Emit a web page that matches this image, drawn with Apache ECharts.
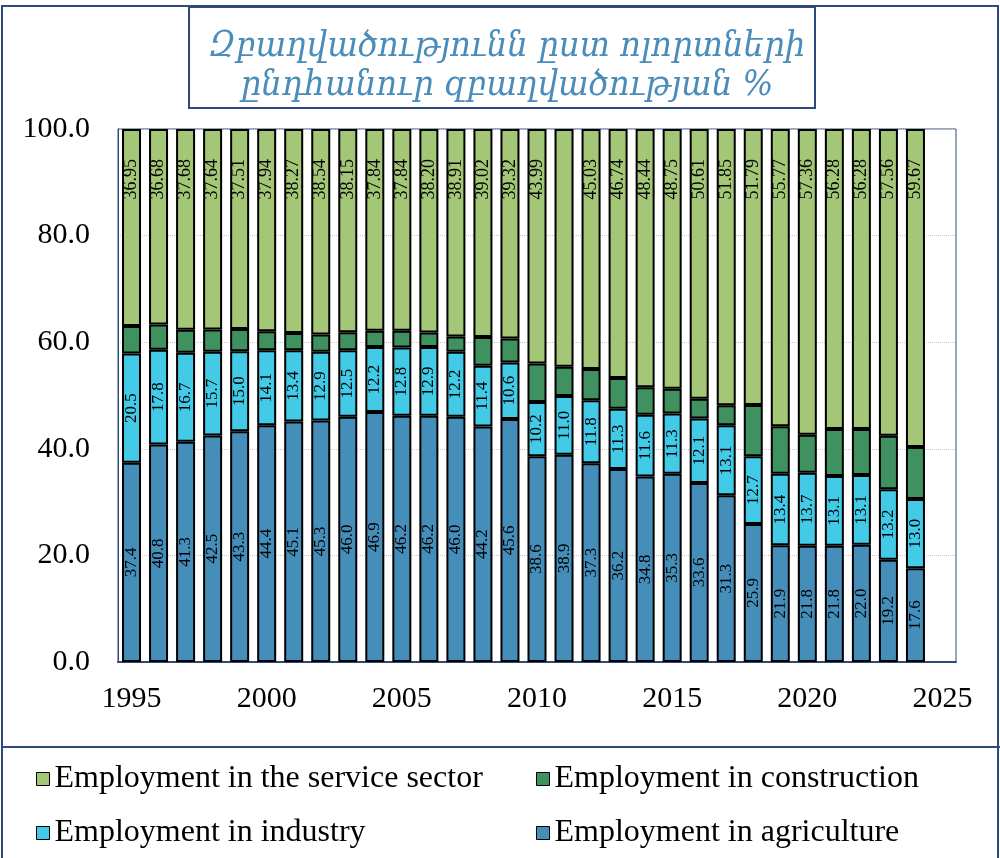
<!DOCTYPE html>
<html>
<head>
<meta charset="utf-8">
<script src="https://cdn.jsdelivr.net/npm/echarts@6/dist/echarts.min.js"></script>
<style>
  html, body { margin: 0; padding: 0; background: #fff; }
  #chart { width: 1000px; height: 858px; }
</style>
</head>
<body>
<div id="chart"></div>
<script>
  const years = [1995, 1996, 1997, 1998, 1999, 2000, 2001, 2002, 2003, 2004,
    2005, 2006, 2007, 2008, 2009, 2010, 2011, 2012, 2013, 2014,
    2015, 2016, 2017, 2018, 2019, 2020, 2021, 2022, 2023, 2024, 2025]
  const agriculture = [37.4, 40.8, 41.3, 42.5, 43.3, 44.4, 45.1, 45.3, 46.0, 46.9,
    46.2, 46.2, 46.0, 44.2, 45.6, 38.6, 38.9, 37.3, 36.2, 34.8,
    35.3, 33.6, 31.3, 25.9, 21.9, 21.8, 21.8, 22.0, 19.2, 17.6]
  const industry = [20.5, 17.8, 16.7, 15.7, 15.0, 14.1, 13.4, 12.9, 12.5, 12.2,
    12.8, 12.9, 12.2, 11.4, 10.6, 10.2, 11.0, 11.8, 11.3, 11.6,
    11.3, 12.1, 13.1, 12.7, 13.4, 13.7, 13.1, 13.1, 13.2, 13.0]
  // construction has no labels in the picture
  const construction = [5.15, 4.72, 4.32, 4.16, 4.19, 3.56, 3.23, 3.26, 3.35, 3.06,
    3.16, 2.7, 2.89, 5.38, 4.48, 7.21, 5.5, 5.87, 5.76, 5.16,
    4.65, 3.69, 3.75, 9.61, 8.93, 7.14, 8.82, 8.62, 10.04, 9.73]
  const service = [36.95, 36.68, 37.68, 37.64, 37.51, 37.94, 38.27, 38.54, 38.15, 37.84,
    37.84, 38.20, 38.91, 39.02, 39.32, 43.99, 44.6, 45.03, 46.74, 48.44,
    48.75, 50.61, 51.85, 51.79, 55.77, 57.36, 56.28, 56.28, 57.56, 59.67]
  const noServiceLabel = [2011]

  const serif = "'Liberation Serif', 'Times New Roman', serif"
  const navy = '#2E4A7D'

  const myChart = echarts.init(document.getElementById('chart'))

  function barSeries(name, values, color, label, hideLabelFor) {
    return {
      name: name,
      type: 'bar',
      stack: 'total',
      barWidth: 19,
      itemStyle: { color: color, borderColor: '#000', borderWidth: 2 },
      label: label,
      data: values.map((v, i) => {
        const item = { value: v }
        if (hideLabelFor && hideLabelFor.indexOf(years[i]) >= 0) item.label = { show: false }
        return item
      })
    }
  }

  const centerLabel = {
    show: true,
    position: 'inside',
    rotate: 90,
    fontFamily: serif,
    fontSize: 17,
    color: '#000',
    formatter: p => p.value.toFixed(1)
  }

  myChart.setOption({
    animation: false,
    title: {
      text: 'Զբաղվածությունն ըստ ոլորտների\nընդհանուր զբաղվածության %',
      left: 502,
      textAlign: 'center',
      top: 22,
      textStyle: {
        fontFamily: "'DejaVu Serif Condensed', 'DejaVu Serif', serif",
        fontStyle: 'italic',
        fontWeight: 'normal',
        fontSize: 36,
        lineHeight: 39,
        color: '#4A8DBA'
      }
    },
    graphic: [
      { type: 'rect', shape: { x: 2, y: 6, width: 996, height: 860 }, style: { fill: 'none', stroke: navy, lineWidth: 2 }, silent: true },
      { type: 'line', shape: { x1: 2, y1: 747, x2: 1000, y2: 747 }, style: { stroke: navy, lineWidth: 2 }, silent: true },
      { type: 'rect', shape: { x: 189, y: 7, width: 626, height: 101 }, style: { fill: 'none', stroke: navy, lineWidth: 2 }, silent: true }
    ],
    legend: [
      { data: ['Employment in the service sector'], left: 31, top: 758 },
      { data: ['Employment in construction'], left: 531, top: 758 },
      { data: ['Employment in industry'], left: 31, top: 812 },
      { data: ['Employment in agriculture'], left: 531, top: 812 }
    ].map(l => Object.assign(l, {
      icon: 'rect',
      itemWidth: 13,
      itemHeight: 13,
      itemGap: 6,
      itemStyle: { borderColor: '#000', borderWidth: 1 },
      textStyle: { fontFamily: serif, fontSize: 32, color: '#000', padding: [0, 0, 0, 0] }
    })),
    grid: {
      left: 118,
      right: 44,
      top: 129,
      bottom: 196,
      show: true,
      borderColor: navy,
      borderWidth: 1
    },
    xAxis: {
      type: 'category',
      data: years,
      boundaryGap: true,
      axisLine: { show: true, lineStyle: { color: navy, width: 2 } },
      axisTick: { show: false },
      splitLine: { show: false },
      axisLabel: {
        interval: 4,
        margin: 22,
        fontFamily: serif,
        fontSize: 30,
        color: '#000'
      }
    },
    yAxis: {
      type: 'value',
      min: 0,
      max: 100,
      interval: 20,
      axisLine: { show: true, lineStyle: { color: navy, width: 1 } },
      axisTick: { show: false },
      splitLine: { show: true, lineStyle: { color: '#C8C8C8', type: 'dotted', width: 1 } },
      axisLabel: {
        margin: 28,
        fontFamily: serif,
        fontSize: 30,
        color: '#000',
        formatter: v => v.toFixed(1)
      }
    },
    series: [
      barSeries('Employment in agriculture', agriculture, '#468EBA', centerLabel),
      barSeries('Employment in industry', industry, '#42CAE7', centerLabel),
      barSeries('Employment in construction', construction, '#3F9160', { show: false }),
      barSeries('Employment in the service sector', service, '#A3C776', {
        show: true,
        position: 'insideTop',
        rotate: 90,
        align: 'right',
        verticalAlign: 'middle',
        distance: 16,
        offset: [-14, 0],
        fontFamily: serif,
        fontSize: 18,
        color: '#000',
        formatter: p => p.value.toFixed(2)
      }, noServiceLabel)
    ]
  })
</script>
</body>
</html>
